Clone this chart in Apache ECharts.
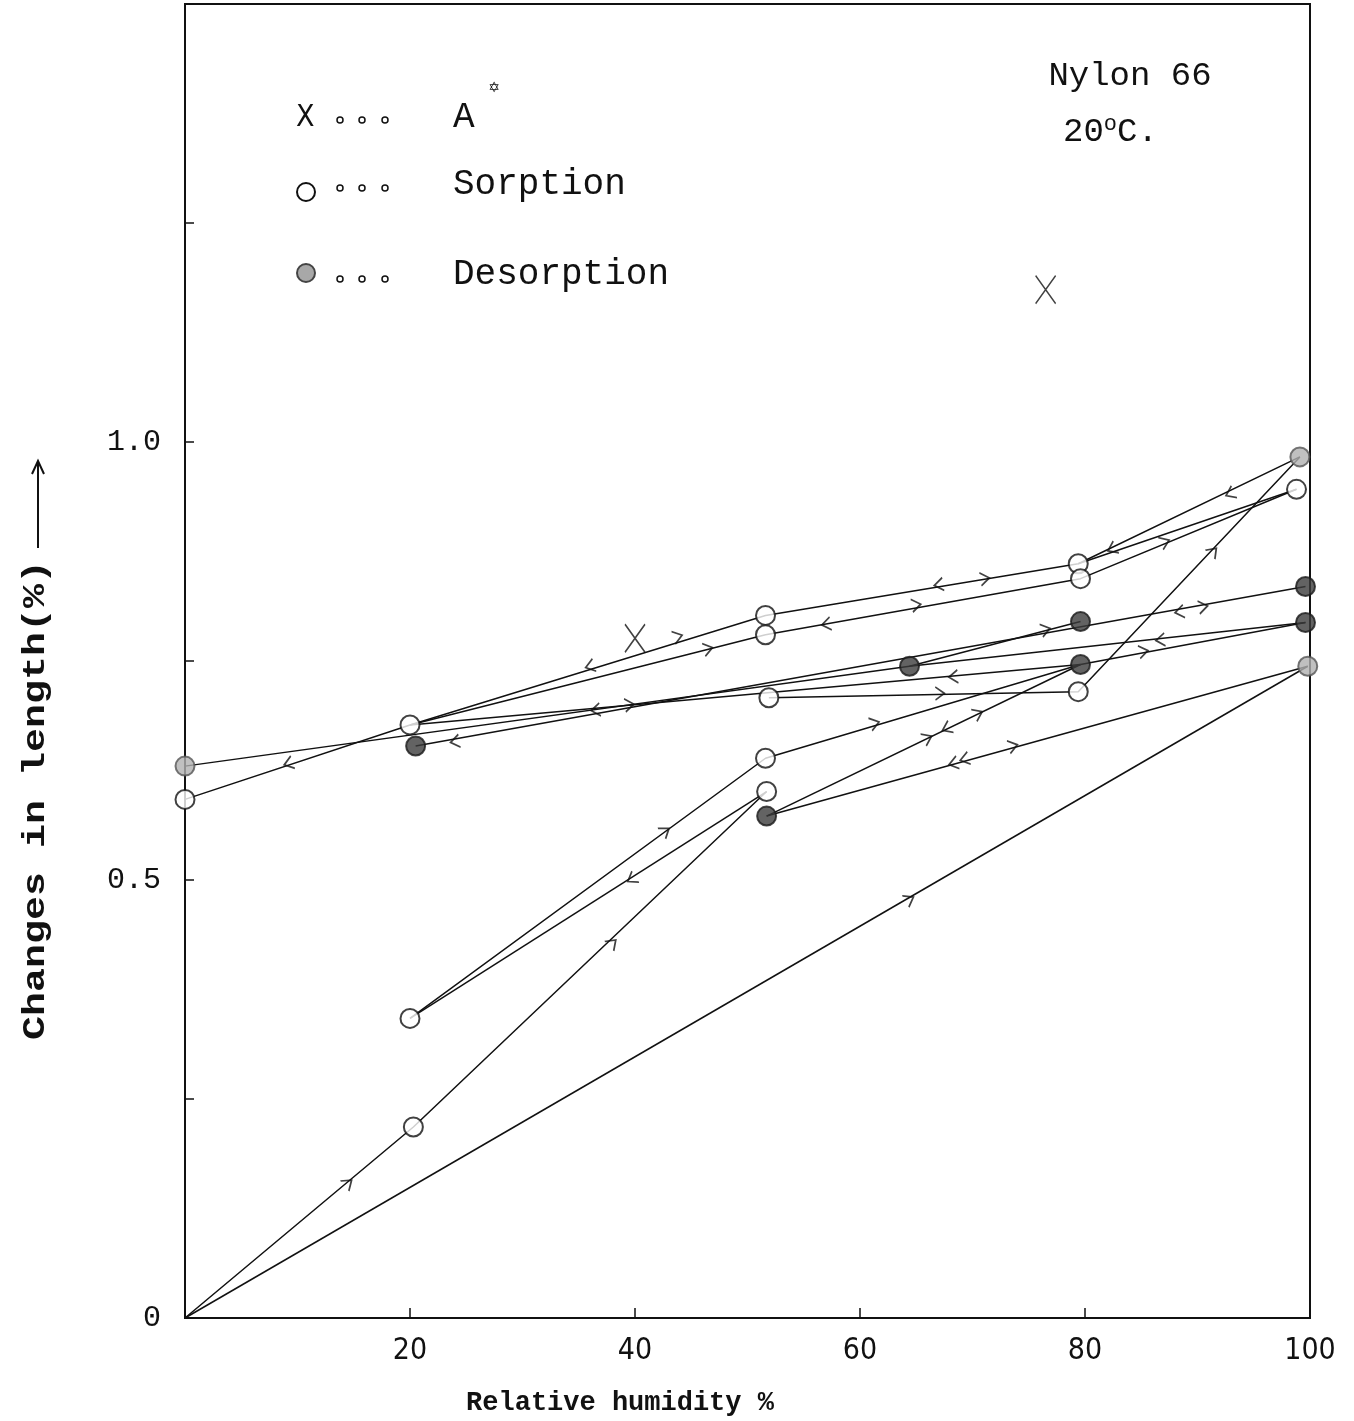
<!DOCTYPE html>
<html>
<head>
<meta charset="utf-8">
<title>Nylon 66</title>
<script src="https://cdn.jsdelivr.net/npm/echarts@6/dist/echarts.min.js"></script>
<style>
html, body { margin: 0; padding: 0; background: #fff; }
#chart { width: 1354px; height: 1421px; }
</style>
</head>
<body>
<div id="chart"></div>
<script>
// axis ticks
var xTicks = [20, 40, 60, 80, 100];
var yTickLabels = {'0': '0', '0.5': '0.5', '1': '1.0'};

// measured points (relative humidity %, change in length %)
var sorption = [[0, 0.592], [20, 0.677], [20, 0.342], [20.3, 0.218], [51.6, 0.802], [51.6, 0.780],
    [51.9, 0.708], [51.6, 0.639], [51.7, 0.601], [79.4, 0.861], [79.6, 0.844], [79.4, 0.715], [98.8, 0.946]];
var desorption = [[20.5, 0.653], [51.7, 0.573], [64.4, 0.744], [79.6, 0.795], [79.6, 0.746], [99.6, 0.835], [99.6, 0.794]];
var desorptionLight = [[0, 0.630], [99.1, 0.983], [99.8, 0.744]];
var pointsA = [[40, 0.776], [76.5, 1.174]];

// connecting paths
var paths = [
    [[0, 0], [20.3, 0.218], [51.7, 0.601]],
    [[0, 0], [99.8, 0.744]],
    [[20, 0.342], [51.6, 0.639], [79.6, 0.746]],
    [[51.7, 0.601], [20, 0.342]],
    [[51.7, 0.573], [79.6, 0.746]],
    [[51.7, 0.573], [99.8, 0.744]],
    [[51.9, 0.708], [79.4, 0.715], [99.1, 0.983]],
    [[0, 0.592], [20, 0.677], [51.6, 0.802], [79.4, 0.861], [99.1, 0.983]],
    [[20, 0.677], [51.6, 0.780], [79.6, 0.844], [98.8, 0.946]],
    [[79.4, 0.861], [98.8, 0.946]],
    [[0, 0.630], [64.4, 0.744], [99.6, 0.794]],
    [[64.4, 0.744], [79.6, 0.795]],
    [[20.5, 0.653], [99.6, 0.835]],
    [[79.6, 0.746], [99.6, 0.794]],
    [[79.6, 0.746], [20, 0.677]]
];

// direction arrows on the lines: x, y, 1 = towards higher humidity, -1 = towards lower
var arrows = [
    [14.5, 0.154, 1], [38, 0.428, 1], [42.7, 0.556, 1], [39.7, 0.501, -1], [64.4, 0.478, 1],
    [61.3, 0.679, 1], [66, 0.662, 1], [67.7, 0.673, -1], [70.5, 0.69, 1],
    [68.3, 0.633, -1], [69.3, 0.638, -1], [73.6, 0.653, 1], [67.1, 0.713, 1], [68.3, 0.732, -1],
    [9.2, 0.633, -1], [43.8, 0.778, 1], [36, 0.744, -1], [46.5, 0.764, 1], [57, 0.792, -1],
    [65, 0.814, 1], [67, 0.837, -1], [71.1, 0.844, 1], [92.9, 0.941, -1], [91.4, 0.875, 1],
    [82.4, 0.878, -1], [87.1, 0.886, 1], [88.4, 0.806, -1], [90.5, 0.812, 1], [86.7, 0.774, -1],
    [85.2, 0.761, 1], [24, 0.658, -1], [36.5, 0.694, -1], [39.5, 0.700, 1], [76.5, 0.786, 1]
];

var MONO = '"Liberation Mono", "DejaVu Sans Mono", monospace';
var NARROW = '"Liberation Sans Narrow", "DejaVu Sans Condensed", sans-serif';

var chart = echarts.init(document.getElementById('chart'));

var series = [];
for (var i = 0; i < paths.length; i++) {
    series.push({
        type: 'line', data: paths[i], symbol: 'none', silent: true, z: 2,
        lineStyle: {color: '#111', width: 1.5}
    });
}
series.push({
    name: 'arrows', type: 'scatter', z: 3, silent: true,
    symbol: 'path://M0,0L10,6L0,12', symbolSize: [9, 13],
    itemStyle: {color: 'rgba(0,0,0,0)', borderColor: '#111', borderWidth: 1.6},
    data: []
});
series.push({
    type: 'scatter', data: sorption, symbol: 'circle', symbolSize: 19, z: 5,
    itemStyle: {color: '#fff', borderColor: '#111', borderWidth: 2}
});
series.push({
    type: 'scatter', data: desorption, symbol: 'circle', symbolSize: 19, z: 5,
    itemStyle: {color: '#3c3c3c', borderColor: '#1a1a1a', borderWidth: 2}
});
series.push({
    type: 'scatter', data: desorptionLight, symbol: 'circle', symbolSize: 19, z: 5,
    itemStyle: {color: '#b0b0b0', borderColor: '#555', borderWidth: 2}
});
series.push({
    type: 'scatter', data: pointsA, symbol: 'path://M0,0L20,28M20,0L0,28', symbolSize: [20, 28], z: 5,
    itemStyle: {color: 'rgba(0,0,0,0)', borderColor: '#111', borderWidth: 1.6}
});

var option = {
    backgroundColor: '#fff',
    animation: false,
    grid: {left: 185, right: 44, top: 4, bottom: 103, show: true, borderColor: '#111', borderWidth: 2},
    xAxis: {
        type: 'value', min: 0, max: 100, interval: 20,
        axisLine: {lineStyle: {color: '#111', width: 2}},
        axisTick: {inside: true, length: 10, lineStyle: {color: '#111', width: 1.5}},
        splitLine: {show: false},
        axisLabel: {
            margin: 18, color: '#111', fontSize: 30, fontFamily: NARROW,
            formatter: function (v) { return xTicks.indexOf(v) >= 0 ? String(v) : ''; }
        }
    },
    yAxis: {
        type: 'value', min: 0, max: 1.5, interval: 0.25,
        axisLine: {lineStyle: {color: '#111', width: 2}},
        axisTick: {inside: true, length: 9, lineStyle: {color: '#111', width: 1.5}},
        splitLine: {show: false},
        axisLabel: {
            margin: 24, color: '#111', fontSize: 30, fontFamily: MONO,
            formatter: function (v) { return yTickLabels[String(v)] || ''; }
        }
    },
    graphic: [
        // legend
        {type: 'text', left: 296, top: 103, style: {text: 'X', font: '30px ' + NARROW, fill: '#111'}},
        {type: 'circle', shape: {cx: 340, cy: 120, r: 3}, style: {fill: 'none', stroke: '#111', lineWidth: 1.5}},
        {type: 'circle', shape: {cx: 362, cy: 120, r: 3}, style: {fill: 'none', stroke: '#111', lineWidth: 1.5}},
        {type: 'circle', shape: {cx: 385, cy: 120, r: 3}, style: {fill: 'none', stroke: '#111', lineWidth: 1.5}},
        {type: 'text', x: 453, y: 117, style: {text: 'A', font: '36px ' + MONO, fill: '#111', verticalAlign: 'middle'}},
        {type: 'text', x: 494, y: 88, style: {text: '\u2721', font: '14px "DejaVu Sans"', fill: '#111', align: 'center', verticalAlign: 'middle'}},

        {type: 'circle', shape: {cx: 306, cy: 192, r: 9}, style: {fill: '#fff', stroke: '#111', lineWidth: 2}},
        {type: 'circle', shape: {cx: 340, cy: 188, r: 3}, style: {fill: 'none', stroke: '#111', lineWidth: 1.5}},
        {type: 'circle', shape: {cx: 362, cy: 188, r: 3}, style: {fill: 'none', stroke: '#111', lineWidth: 1.5}},
        {type: 'circle', shape: {cx: 385, cy: 188, r: 3}, style: {fill: 'none', stroke: '#111', lineWidth: 1.5}},
        {type: 'text', x: 453, y: 184, style: {text: 'Sorption', font: '36px ' + MONO, fill: '#111', verticalAlign: 'middle'}},

        {type: 'circle', shape: {cx: 306, cy: 273, r: 9}, style: {fill: '#a8a8a8', stroke: '#444', lineWidth: 2}},
        {type: 'circle', shape: {cx: 340, cy: 279, r: 3}, style: {fill: 'none', stroke: '#111', lineWidth: 1.5}},
        {type: 'circle', shape: {cx: 362, cy: 279, r: 3}, style: {fill: 'none', stroke: '#111', lineWidth: 1.5}},
        {type: 'circle', shape: {cx: 385, cy: 279, r: 3}, style: {fill: 'none', stroke: '#111', lineWidth: 1.5}},
        {type: 'text', x: 453, y: 274, style: {text: 'Desorption', font: '36px ' + MONO, fill: '#111', verticalAlign: 'middle'}},

        // sample note
        {type: 'text', x: 1130, y: 76, style: {text: 'Nylon 66', font: '34px ' + MONO, fill: '#111', align: 'center', verticalAlign: 'middle'}},
        {type: 'text', x: 1063, y: 132, style: {
            text: '20{s|o}C.', font: '34px ' + MONO, fill: '#111', verticalAlign: 'middle',
            rich: {s: {fontSize: 22, fontFamily: MONO, verticalAlign: 'top', padding: [0, 0, 16, 0]}}
        }},

        // axis names
        {type: 'text', x: 620, y: 1403, style: {text: 'Relative humidity %', font: 'bold 27px ' + MONO, fill: '#111', align: 'center', verticalAlign: 'middle'}},
        {type: 'text', x: 36, y: 800, rotation: Math.PI / 2, scaleX: 1.25,
            style: {text: 'Changes in length(%)', font: 'bold 32px ' + MONO, fill: '#111', align: 'center', verticalAlign: 'middle'}},
        {type: 'line', shape: {x1: 38, y1: 548, x2: 38, y2: 462}, style: {stroke: '#111', lineWidth: 2}},
        {type: 'polyline', shape: {points: [[32, 474], [38, 461], [44, 474]]}, style: {fill: 'none', stroke: '#111', lineWidth: 2}}
    ],
    series: series
};

chart.setOption(option);

// rotate each arrow along the nearest line segment
function arrowData() {
    var out = [];
    for (var k = 0; k < arrows.length; k++) {
        var p = chart.convertToPixel({gridIndex: 0}, [arrows[k][0], arrows[k][1]]);
        var best = null, bestD = 1e9;
        for (var i = 0; i < paths.length; i++) {
            for (var j = 0; j < paths[i].length - 1; j++) {
                var a = chart.convertToPixel({gridIndex: 0}, paths[i][j]);
                var b = chart.convertToPixel({gridIndex: 0}, paths[i][j + 1]);
                var dx = b[0] - a[0], dy = b[1] - a[1];
                var t = ((p[0] - a[0]) * dx + (p[1] - a[1]) * dy) / (dx * dx + dy * dy);
                t = Math.max(0, Math.min(1, t));
                var qx = a[0] + t * dx - p[0], qy = a[1] + t * dy - p[1];
                var d = qx * qx + qy * qy;
                if (d < bestD) {
                    bestD = d;
                    best = dx >= 0 ? [dx, dy] : [-dx, -dy];
                }
            }
        }
        var ang = Math.atan2(-best[1], best[0]) * 180 / Math.PI;
        if (arrows[k][2] < 0) ang += 180;
        out.push({value: [arrows[k][0], arrows[k][1]], symbolRotate: ang});
    }
    return out;
}

chart.setOption({series: [{name: 'arrows', data: arrowData()}]});
</script>
</body>
</html>
